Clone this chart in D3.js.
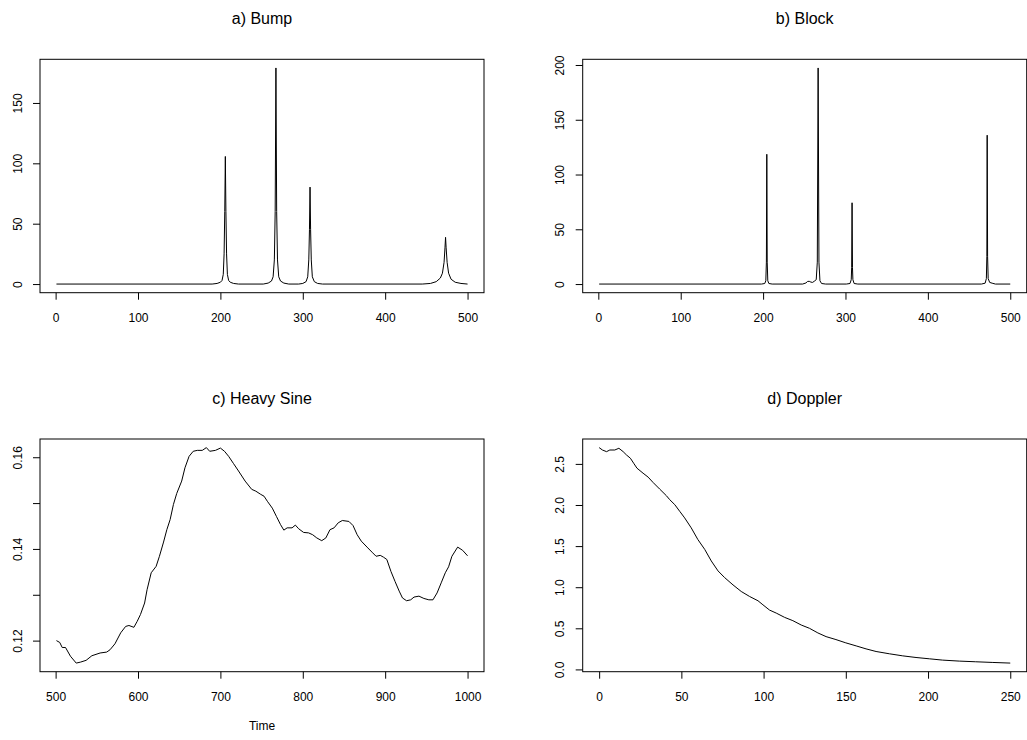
<!DOCTYPE html>
<html><head><meta charset="utf-8">
<script src="https://cdn.jsdelivr.net/npm/d3@7"></script>
<style>
html,body{margin:0;padding:0;background:#fff;}
svg{display:block;font-family:"Liberation Sans",Arial,Helvetica,sans-serif;}
</style></head>
<body><svg id="c" width="1027" height="740"></svg>
<script>
// ---------- DATA ----------
const titles = ["a) Bump", "b) Block", "c) Heavy Sine", "d) Doppler"];

const bumpX = [1,190,196,200,202,203.5,204.5,205.3,206,206.7,207.5,208.5,210,212,216,222,
  252,258,262,264,265.5,266.5,267.4,268.3,269.3,270.8,273,277,283,
  295,300,304,306,307.3,308.1,308.8,309.5,310.3,311.6,314,318,324,
  445,455,462,467,469.5,471.5,472.6,473.3,474,475.2,477,480,485,492,500];
const bumpY = [0,0,0.5,1.5,3,8,25,60,105.7,60,25,8,3,1.5,0.5,0,
  0,0.8,2.5,6,20,60,179,60,20,6,2.5,0.8,0,
  0,0.5,2,6,20,45,80.3,45,20,6,2,0.5,0,
  0,0.5,2,5,9,18,30,38.7,30,18,9,4,1.5,0.5,0];

const blockX = [1,198,202,203.3,204,204.5,205,205.7,207,211,
  248,252,254,256,258,260,262,264.5,265.8,266.8,267.8,269,271,276,
  301,305.5,307,307.5,308,308.5,309,310.5,315,
  465,469.5,471,471.6,472,472.5,473.2,475,478,482,500];
const blockY = [0,0,0.5,3,20,118.5,20,3,0.5,0,
  0,1,2.4,2.5,1.8,1.5,2.5,4,20,197.3,20,3,0.5,0,
  0,0.5,4,15,74.2,15,4,0.5,0,
  0,0.8,5,25,135.9,25,5,1.5,0.8,0,0];

const sineX = [501,505,508,512,518,525,530,537,544,554,562,566,572,579,585,589,595,599,603,608,611,616,622,626,631,635,639,643,647,653,657,662,667,672,678,683,687,694,700,705,710,716,722,730,738,743,749,753,757,763,768,773,777,781,787,791,795,801,807,812,817,823,828,833,838,843,848,856,861,866,871,878,884,889,894,898,902,907,912,917,921,926,931,935,941,947,953,958,963,968,973,977,981,988,994,1000];
const sineY = [0.1200,0.1196,0.1185,0.1185,0.1166,0.1151,0.1153,0.1157,0.1167,0.1173,0.1175,0.1180,0.1193,0.1217,0.1231,0.1233,0.1229,0.1242,0.1257,0.1282,0.1311,0.1348,0.1362,0.1384,0.1415,0.1442,0.1464,0.1497,0.1521,0.1548,0.1577,0.1602,0.1613,0.1615,0.1615,0.1621,0.1613,0.1615,0.1620,0.1613,0.1602,0.1586,0.1570,0.1548,0.1530,0.1526,0.1519,0.1515,0.1504,0.1489,0.1471,0.1453,0.1441,0.1446,0.1446,0.1452,0.1444,0.1436,0.1435,0.1431,0.1424,0.1418,0.1424,0.1442,0.1446,0.1457,0.1462,0.1460,0.1451,0.1431,0.1417,0.1404,0.1393,0.1384,0.1386,0.1382,0.1377,0.1351,0.1329,0.1308,0.1293,0.1287,0.1289,0.1295,0.1297,0.1292,0.1289,0.1289,0.1304,0.1326,0.1348,0.1361,0.1384,0.1404,0.1397,0.1385];

const dopX = [0,2,4.5,6.5,9.5,12,14.6,16.6,19,21,23,26.7,29.8,32.8,36.8,40.9,42.9,46,49,52,56,60,64.2,68.2,72.3,76.3,81.4,86.4,91.5,96.6,99.6,103.6,107.7,112.8,117.8,122.9,127.9,133,138,144,150,156.3,162.3,168.4,176.5,184.6,192.7,200.8,208.9,219,229,239,250];
const dopY = [2.698,2.669,2.649,2.669,2.669,2.690,2.649,2.609,2.569,2.508,2.448,2.387,2.339,2.274,2.194,2.113,2.065,2.004,1.923,1.843,1.722,1.581,1.460,1.319,1.198,1.117,1.028,0.948,0.887,0.835,0.786,0.722,0.685,0.633,0.593,0.540,0.500,0.444,0.399,0.363,0.323,0.286,0.250,0.218,0.190,0.165,0.145,0.129,0.113,0.101,0.093,0.085,0.077];

const bumpXTicks = [0,100,200,300,400,500];
const bumpYTicks = [0,50,100,150];
const blockXTicks = [0,100,200,300,400,500];
const blockYTicks = [0,50,100,150,200];
const sineXTicks = [500,600,700,800,900,1000];
const sineYTicks = [0.12,0.13,0.14,0.15,0.16];
const sineYLabels = ["0.12","","0.14","","0.16"];
const dopXTicks = [0,50,100,150,200,250];
const dopYTicks = [0,0.5,1,1.5,2,2.5];
const dopYLabels = ["0.0","0.5","1.0","1.5","2.0","2.5"];
const xLabelC = "Time";

// ---------- DRAWING ----------
const svg = d3.select("#c");
function rpad(ext){ const d=(ext[1]-ext[0])*0.04; return [ext[0]-d, ext[1]+d]; }

const boxes = [
  {x0:40, x1:484, y0:59.3, y1:292.7},
  {x0:582.7, x1:1026.7, y0:59.3, y1:292.7},
  {x0:40, x1:484, y0:439, y1:671.7},
  {x0:582.7, x1:1026.7, y0:439, y1:671.7}
];
const panels = [
  {xs:bumpX, ys:bumpY, xt:bumpXTicks, yt:bumpYTicks, yl:bumpYTicks.map(String)},
  {xs:blockX, ys:blockY, xt:blockXTicks, yt:blockYTicks, yl:blockYTicks.map(String)},
  {xs:sineX, ys:sineY, xt:sineXTicks, yt:sineYTicks, yl:sineYLabels, xlab:xLabelC},
  {xs:dopX, ys:dopY, xt:dopXTicks, yt:dopYTicks, yl:dopYLabels}
];

panels.forEach((p,i)=>{
  const b = boxes[i];
  const x = d3.scaleLinear().domain(rpad(d3.extent(p.xs))).range([b.x0,b.x1]);
  const y = d3.scaleLinear().domain(rpad(d3.extent(p.ys))).range([b.y1,b.y0]);
  const g = svg.append("g");

  // title
  g.append("text").attr("x",(b.x0+b.x1)/2).attr("y",b.y0-35)
    .attr("text-anchor","middle").attr("font-size",16).text(titles[i]);

  // box
  g.append("rect").attr("x",b.x0).attr("y",b.y0).attr("width",b.x1-b.x0).attr("height",b.y1-b.y0)
    .attr("fill","none").attr("stroke","#000").attr("stroke-width",1);

  // x axis
  const xa = g.append("g").attr("transform",`translate(0,${b.y1})`)
    .call(d3.axisBottom(x).tickValues(p.xt).tickSizeOuter(0).tickSize(7).tickPadding(14).tickFormat(d3.format("d")));
  xa.select(".domain").remove();
  xa.selectAll("line").attr("stroke","#000");
  xa.selectAll("text").attr("font-size",12).attr("fill","#000").attr("font-family",null);
  xa.attr("font-family",null);

  // y axis
  const ya = g.append("g").attr("transform",`translate(${b.x0},0)`)
    .call(d3.axisLeft(y).tickValues(p.yt).tickSizeOuter(0).tickSize(7).tickFormat((d,k)=>p.yl[k]));
  ya.select(".domain").remove();
  ya.selectAll("line").attr("stroke","#000");
  ya.attr("font-family",null);
  ya.selectAll("text").attr("font-size",12).attr("fill","#000")
    .attr("x",null).attr("dy",null)
    .attr("text-anchor","middle")
    .attr("transform",d=>`translate(-18.5,0) rotate(-90)`);

  // line
  g.append("path").datum(p.xs.map((v,k)=>[v,p.ys[k]]))
    .attr("fill","none").attr("stroke","#000").attr("stroke-width",1)
    .attr("d",d3.line().x(d=>x(d[0])).y(d=>y(d[1])));

  if(p.xlab){
    g.append("text").attr("x",(b.x0+b.x1)/2).attr("y",b.y1+58)
      .attr("text-anchor","middle").attr("font-size",12).text(p.xlab);
  }
});
</script></body></html>
